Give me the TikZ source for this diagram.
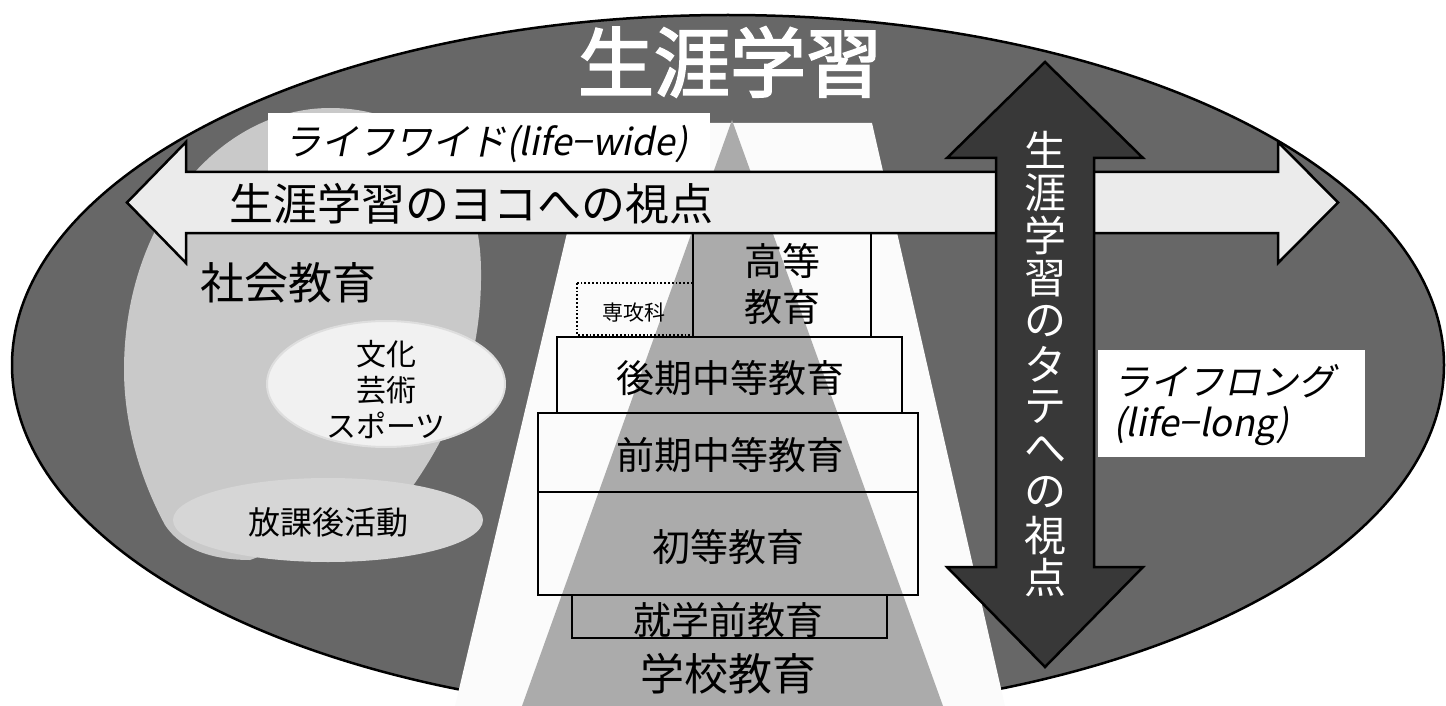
\documentclass[tikz,border=0pt]{standalone}
\usepackage{fontspec}
\setmainfont{Noto Sans CJK JP}
\newfontfamily\jpit[FakeSlant=0.2]{Noto Sans CJK JP}
\newfontfamily\jpbf[FakeBold=2.5]{Noto Sans CJK JP}
\newcommand\jsz[1]{\fontsize{#1}{#1}\selectfont}
\definecolor{ellfill}{HTML}{676767}
\definecolor{blobfill}{HTML}{C9C9C9}
\definecolor{cultfill}{HTML}{F1F1F1}
\definecolor{cultedge}{HTML}{DEDEDE}
\definecolor{afterfill}{HTML}{D6D6D6}
\definecolor{roadfill}{HTML}{FBFBFB}
\definecolor{pyrfill}{HTML}{ABABAB}
\definecolor{harrfill}{HTML}{EBEBEB}
\definecolor{varrfill}{HTML}{383838}
\tikzset{
  lbl/.style={inner sep=0pt, text=black},
  stagebox/.style={draw=black, line width=2pt},
  arrowshape/.style={draw=black, line width=2.5pt, line join=miter},
}
\begin{document}
\begin{tikzpicture}[x=1pt,y=-1pt]
\useasboundingbox (0,0) rectangle (1446,706);
\begin{scope}
\clip (0,0) rectangle (1446,706);
% big ellipse
\fill[ellfill] (728,365) ellipse [x radius=716, y radius=350];
\draw[black, line width=2.5pt] (728,365) ellipse [x radius=716, y radius=350];
% social education blob
\fill[blobfill] (330,108) .. controls (420,108) and (480,170) .. (481,270)
  .. controls (482,350) and (460,420) .. (410,490) -- (330,530) -- (250,560)
  .. controls (205,560) and (178,545) .. (165,525)
  .. controls (138,475) and (124,420) .. (124,370)
  .. controls (124,220) and (220,108) .. (330,108) -- cycle;
% culture ellipse
\fill[cultfill, draw=cultedge, line width=2pt] (386,384) ellipse [x radius=119, y radius=63];
% after school ellipse
\fill[afterfill] (328,520) ellipse [x radius=155, y radius=42];
% road
\fill[roadfill] (593,123) -- (872,123) -- (1005,706) -- (455,706) -- cycle;
% pyramid
\fill[pyrfill] (732,120) -- (943,706) -- (522,706) -- cycle;
% white label boxes
\fill[white] (268,113) rectangle (710,172);
\fill[white] (1098,350) rectangle (1365,457);
% horizontal double arrow
\filldraw[fill=harrfill, arrowshape] (127,202.5) -- (186,142) -- (186,172) -- (1278,172)
  -- (1278,142) -- (1338,202.5) -- (1278,263) -- (1278,233) -- (186,233) -- (186,263) -- cycle;
% school stage boxes
\draw[stagebox] (693,233) rectangle (871,337);
\draw[black, line width=1.8pt, dotted] (577,283) rectangle (693,335);
\draw[stagebox] (557,337) rectangle (902,413);
\draw[stagebox] (538,413) rectangle (918,492);
\draw[stagebox] (538,492) rectangle (918,595);
\draw[stagebox] (572,595) rectangle (887,638);
% vertical double arrow
\filldraw[fill=varrfill, arrowshape] (1045,62) -- (1143,158) -- (1094,158) -- (1094,567)
  -- (1143,567) -- (1045,667) -- (947,567) -- (996,567) -- (996,158) -- (947,158) -- cycle;
\end{scope}
% texts
\node[lbl, font=\jpbf\jsz{76}, text=white] (title) at (730,62) {生涯学習};
\node[lbl, font=\jpit\jsz{37}, anchor=west] (wide) at (284,144) {ライフワイド(life−wide)};
\node[lbl, font=\jsz{44}, anchor=west] (horiz) at (229,204) {生涯学習のヨコへの視点};
\node[lbl, font=\jsz{44}] (social) at (288,283) {社会教育};
\node[lbl, font=\jsz{30}, align=center] (culture) at (386,390) {文化\\[6pt]芸術\\[6pt]スポーツ};
\node[lbl, font=\jsz{32}] (after) at (328,522) {放課後活動};
\node[lbl, font=\jsz{21}] (senko) at (634,313) {専攻科};
\node[lbl, font=\jsz{38}, align=center] (higher) at (782,284) {高等\\[8pt]教育};
\node[lbl, font=\jsz{38}] (upper) at (730,378) {後期中等教育};
\node[lbl, font=\jsz{38}] (lower) at (730,455) {前期中等教育};
\node[lbl, font=\jsz{38}] (primary) at (728,547) {初等教育};
\node[lbl, font=\jsz{38}] (pre) at (728,620) {就学前教育};
\node[lbl, font=\jsz{44}] (school) at (728,674) {学校教育};
\node[lbl, font=\jpit\jsz{37}, anchor=west, align=left] (long) at (1113,405) {ライフロング\\[4pt](life−long)};
\foreach \ch [count=\i from 0] in {生,涯,学,習,の,タ,テ,へ,の,視,点}
  \node[lbl, font=\jsz{42}, text=white] (v\i) at (1045,{150+42.8*\i}) {\ch};
\end{tikzpicture}
\end{document}
